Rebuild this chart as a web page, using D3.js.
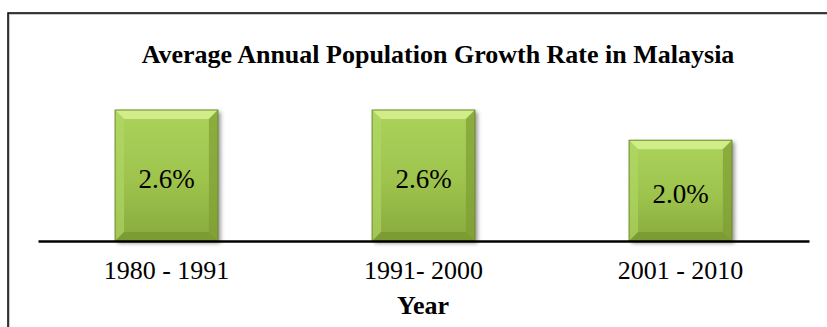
<!DOCTYPE html>
<html>
<head>
<meta charset="utf-8">
<script src="https://cdn.jsdelivr.net/npm/d3@7"></script>
<style>
  html, body { margin: 0; padding: 0; background: #fff; }
  svg { display: block; }
  svg text { font-family: "Liberation Serif", "Times New Roman", serif; }
</style>
</head>
<body>
<svg id="chart" width="827" height="327"></svg>
<script>
// Average annual population growth rate (%) by census period
const periods = ["1980 - 1991", "1991- 2000", "2001 - 2010"];
const growthRates = [2.6, 2.6, 2.0];
const valueLabels = ["2.6%", "2.6%", "2.0%"];
const chartTitle = "Average Annual Population Growth Rate in Malaysia";
const axisTitle = "Year";

const SERIF = '"Liberation Serif", "Times New Roman", serif';
const svg = d3.select("#chart");
const W = 827, H = 327;

const x = d3.scaleBand()
  .domain(periods)
  .range([38, 809])
  .paddingInner(0.6)
  .paddingOuter(0.3);

const y = d3.scaleLinear()
  .domain([0, 3])
  .range([241, 89.85]);

const defs = svg.append("defs");

// Face gradient of the bevelled bars
const face = defs.append("linearGradient")
  .attr("id", "barFace").attr("x1", 0).attr("y1", 0).attr("x2", 0).attr("y2", 1);
face.append("stop").attr("offset", "0%").attr("stop-color", "#abd35a");
face.append("stop").attr("offset", "55%").attr("stop-color", "#9dc34d");
face.append("stop").attr("offset", "100%").attr("stop-color", "#88aa3d");

const shadow = defs.append("filter").attr("id", "barShadow")
  .attr("x", "-20%").attr("y", "-20%").attr("width", "140%").attr("height", "140%");
shadow.append("feDropShadow")
  .attr("dx", 2.5).attr("dy", 2).attr("stdDeviation", 2)
  .attr("flood-color", "#000").attr("flood-opacity", 0.45);

// Frame around the chart area
svg.append("rect")
  .attr("x", 9).attr("y", 14).attr("width", W + 10).attr("height", H + 10)
  .attr("fill", "none").attr("stroke", "#bbb").attr("stroke-width", 1.5);
svg.append("rect")
  .attr("x", 8).attr("y", 13).attr("width", W + 10).attr("height", H + 10)
  .attr("fill", "none").attr("stroke", "#000").attr("stroke-width", 1.5);

// Title
svg.append("text")
  .attr("x", 438).attr("y", 63)
  .attr("text-anchor", "middle")
  .style("font-family", SERIF)
  .attr("font-weight", "bold")
  .attr("font-size", 26)
  .attr("fill", "#000")
  .text(chartTitle);

const rows = periods.map((p, i) => ({ period: p, value: growthRates[i], label: valueLabels[i] }));

const bars = svg.append("g").selectAll("g.bar")
  .data(rows).join("g").attr("class", "bar");

bars.append("rect")
  .attr("x", d => x(d.period))
  .attr("y", d => y(d.value))
  .attr("width", x.bandwidth())
  .attr("height", d => y(0) - y(d.value))
  .attr("fill", "url(#barFace)")
  .attr("filter", "url(#barShadow)");

// Bevel facets
const b = 9;
function facet(d, side) {
  const x0 = x(d.period), x1 = x0 + x.bandwidth();
  const y0 = y(d.value), y1 = y(0);
  const pts = {
    top:    [[x0, y0], [x1, y0], [x1 - b, y0 + b], [x0 + b, y0 + b]],
    left:   [[x0, y0], [x0 + b, y0 + b], [x0 + b, y1 - b], [x0, y1]],
    right:  [[x1, y0], [x1, y1], [x1 - b, y1 - b], [x1 - b, y0 + b]],
    bottom: [[x0, y1], [x0 + b, y1 - b], [x1 - b, y1 - b], [x1, y1]]
  }[side];
  return "M" + pts.map(p => p.join(",")).join("L") + "Z";
}
const facetFill = { top: "#d2ee8c", left: "#b3d868", right: "#7d9c33", bottom: "#789530" };
const facetOpacity = { top: 0.95, left: 0.6, right: 0.7, bottom: 0.75 };
["top", "left", "right", "bottom"].forEach(side => {
  bars.append("path")
    .attr("d", d => facet(d, side))
    .attr("fill", facetFill[side])
    .attr("fill-opacity", facetOpacity[side]);
});
bars.append("rect")
  .attr("x", d => x(d.period))
  .attr("y", d => y(d.value))
  .attr("width", x.bandwidth())
  .attr("height", d => y(0) - y(d.value))
  .attr("fill", "none")
  .attr("stroke", "#6f8c2a")
  .attr("stroke-width", 1);

bars.append("text")
  .attr("x", d => x(d.period) + x.bandwidth() / 2)
  .attr("y", d => (y(d.value) + y(0)) / 2 + 12)
  .attr("text-anchor", "middle")
  .style("font-family", SERIF)
  .attr("font-size", 27)
  .attr("fill", "#000")
  .text(d => d.label);

// Category axis
const axis = svg.append("g")
  .attr("transform", `translate(0,${y(0)})`)
  .call(d3.axisBottom(x).tickSize(0).tickPadding(20));
axis.attr("font-family", null);
axis.select(".domain").attr("stroke", "#000").attr("stroke-width", 2.5);
axis.selectAll(".tick text")
  .style("font-family", SERIF)
  .attr("font-size", 26)
  .attr("fill", "#000");

svg.append("text")
  .attr("x", 423).attr("y", 314)
  .attr("text-anchor", "middle")
  .style("font-family", SERIF)
  .attr("font-weight", "bold")
  .attr("font-size", 26)
  .attr("fill", "#000")
  .text(axisTitle);
</script>
</body>
</html>
